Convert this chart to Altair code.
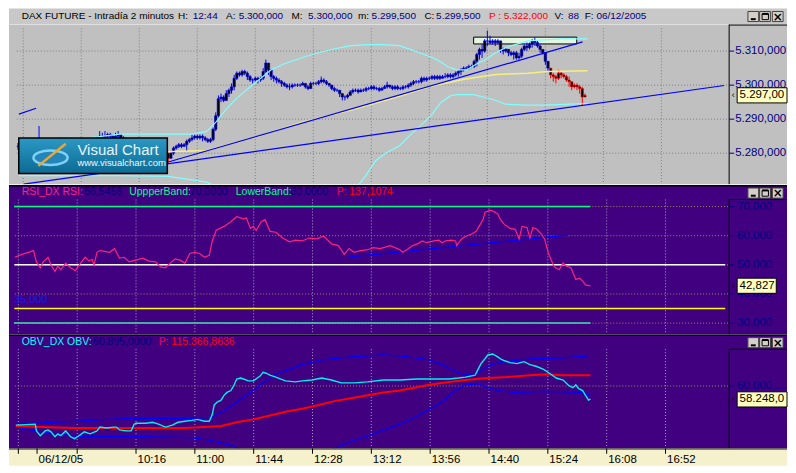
import altair as alt
import pandas as pd

# ============================ DATA ============================
# 2-minute bars of the DAX future, 06/12/2005 (time = minutes after midnight)
BAR_FIRST_T = 524
BAR_STEP = 2
OPEN_FIRST = 5282.0
CLOSES = [5282, 5281.5, 5282, 5282.5, 5282, 5282.5, 5283, 5282.5, 5283, 5282.5,
          5282, 5281.5, 5281, 5281.5, 5282, 5281.5, 5281, 5280.5, 5281, 5281.5,
          5282, 5282, 5282.5, 5283, 5282.5, 5283, 5283.5, 5283, 5283.5, 5284,
          5284.5, 5285, 5284.5, 5285, 5285.5, 5285, 5284.5, 5285, 5285.5, 5284.5,
          5284, 5283.5, 5283, 5283.5, 5283, 5282.5, 5282, 5282.5, 5282, 5281.5,
          5281, 5281.5, 5281, 5280.5, 5280, 5280.5, 5280, 5278.5, 5280, 5281.5,
          5282, 5282.5, 5282, 5282.5, 5283.5, 5284, 5284.5, 5285, 5284.5, 5285,
          5284.5, 5284, 5283.5, 5284, 5287, 5291, 5296, 5296.5, 5295.5, 5297.5,
          5298.5, 5299.5, 5302, 5303.5, 5303, 5304, 5303.5, 5302.5, 5301.5, 5301.5,
          5302, 5301.5, 5302, 5304, 5306.5, 5304.5, 5302.5, 5302, 5301.5, 5301,
          5300.5, 5300, 5299.5, 5299.5, 5300, 5300, 5300, 5300, 5300.5, 5299.5,
          5299, 5300.5, 5300.5, 5300.5, 5301, 5301.5, 5301, 5300.5, 5300, 5299,
          5298.5, 5298.5, 5297.5, 5296.5, 5296.5, 5297, 5298, 5298.5, 5298.5, 5298,
          5298.5, 5298.5, 5299, 5299, 5299.5, 5299, 5299, 5298.5, 5299, 5299.5,
          5300, 5299.5, 5299, 5299.5, 5299, 5299, 5299.5, 5299.5, 5300, 5300.5,
          5301, 5301, 5301, 5302, 5301.5, 5302, 5302, 5302.5, 5302, 5302.5,
          5302, 5302.5, 5302.5, 5303, 5302.5, 5303, 5303.5, 5304, 5304.5, 5305,
          5305, 5305.5, 5305.5, 5307, 5309, 5310.5, 5310, 5313, 5313, 5312.5,
          5313, 5312.5, 5313, 5310.5, 5310, 5310.5, 5309.5, 5309, 5309.5, 5308,
          5308.5, 5310.5, 5311.5, 5311, 5312, 5313, 5312.5, 5311.5, 5310.5, 5309.5,
          5307, 5305, 5303, 5302.5, 5302, 5303.5, 5303, 5302.5, 5301.5, 5301,
          5299.5, 5300, 5299.5, 5299, 5296.5, 5297]
HIGHS = [5283, 5282.5, 5282.5, 5283, 5283, 5283, 5283.5, 5283.5, 5288, 5283.5,
         5283, 5282.5, 5282, 5282, 5282.5, 5282.5, 5282, 5281.5, 5281.5, 5282,
         5282.5, 5282.5, 5283, 5283.5, 5283.5, 5283.5, 5284, 5284, 5284, 5284.5,
         5285, 5286.5, 5286, 5286.5, 5286, 5286, 5285.5, 5286, 5286.5, 5285.5,
         5285, 5284.5, 5284, 5284, 5284, 5283.5, 5283, 5283, 5283, 5282.5,
         5282, 5282, 5282, 5281.5, 5281, 5281, 5281, 5280.5, 5280.5, 5282,
         5282.5, 5283, 5283, 5283, 5284, 5284.5, 5285.5, 5285.5, 5285.5, 5285.5,
         5285.5, 5285, 5284.5, 5284.5, 5287.5, 5292, 5297, 5297.5, 5297, 5298.5,
         5299, 5300.5, 5303, 5304, 5304, 5304.5, 5304.5, 5304, 5303, 5302,
         5302.5, 5302.5, 5302.5, 5305, 5307.5, 5306.5, 5304.5, 5303, 5302.5, 5302,
         5301.5, 5301, 5300.5, 5300.5, 5300.5, 5300.5, 5300.5, 5300.5, 5301, 5300.5,
         5300, 5301, 5301, 5301, 5301.5, 5302.5, 5302, 5301.5, 5300.5, 5300,
         5299.5, 5299, 5298.5, 5297.5, 5297, 5297.5, 5298.5, 5299, 5299, 5299,
         5299, 5299, 5299.5, 5299.5, 5300, 5300, 5299.5, 5299.5, 5299.5, 5300,
         5301, 5300, 5300, 5300, 5300, 5299.5, 5300, 5300, 5300.5, 5301,
         5301.5, 5301.5, 5301.5, 5302.5, 5302.5, 5302.5, 5302.5, 5303, 5303, 5303,
         5303, 5303, 5303.5, 5303.5, 5303.5, 5303.5, 5304, 5304.5, 5305, 5305.5,
         5305.5, 5306, 5306, 5307.5, 5309.5, 5311, 5312, 5313.5, 5316, 5314.5,
         5313.5, 5313.5, 5313.5, 5313, 5311, 5311, 5310.5, 5310, 5310, 5310,
         5309.5, 5311, 5312, 5312.5, 5312.5, 5313.5, 5314, 5313, 5312, 5310.5,
         5309.5, 5307, 5305, 5303.5, 5303, 5304.5, 5304, 5303.5, 5303, 5302.5,
         5301, 5300.5, 5300.5, 5300, 5299.5, 5297.5]
LOWS = [5281, 5281, 5281, 5281.5, 5281.5, 5282, 5282, 5282, 5282.5, 5282,
        5281.5, 5281, 5280.5, 5280.5, 5281, 5281, 5280.5, 5280, 5280, 5280.5,
        5281, 5281.5, 5281.5, 5282, 5282, 5282, 5282.5, 5282.5, 5282.5, 5283,
        5283.5, 5284, 5284, 5284, 5284.5, 5284.5, 5284, 5284.5, 5284.5, 5284,
        5283.5, 5283, 5282.5, 5282.5, 5282.5, 5282, 5281.5, 5281.5, 5281.5, 5281,
        5280.5, 5280.5, 5280.5, 5280, 5279.5, 5279.5, 5279.5, 5277, 5278.5, 5279.5,
        5281, 5281.5, 5281.5, 5282, 5280.5, 5283, 5283.5, 5284, 5284, 5284,
        5283.5, 5283.5, 5283, 5283, 5283.5, 5286.5, 5290.5, 5295, 5295, 5295.5,
        5296.5, 5297.5, 5298.5, 5301.5, 5302.5, 5302.5, 5303, 5301.5, 5301, 5300.5,
        5301, 5300.5, 5301, 5301.5, 5303.5, 5303, 5301.5, 5301, 5300.5, 5300.5,
        5299.5, 5299.5, 5299, 5298.5, 5299, 5299.5, 5299.5, 5299.5, 5300, 5299,
        5298.5, 5299, 5300, 5300, 5300, 5300.5, 5300.5, 5300, 5299.5, 5298.5,
        5298, 5298, 5296.5, 5295.5, 5295.5, 5296, 5297, 5297.5, 5298, 5297.5,
        5298, 5298, 5298, 5298.5, 5298.5, 5298.5, 5298.5, 5298, 5298.5, 5299,
        5299, 5299, 5298.5, 5298.5, 5298.5, 5298.5, 5298.5, 5299, 5299, 5299.5,
        5300, 5300.5, 5300.5, 5300.5, 5301, 5301, 5301.5, 5301.5, 5301.5, 5301.5,
        5301.5, 5302, 5302, 5302, 5302, 5302, 5302.5, 5302.5, 5303, 5304,
        5304.5, 5304.5, 5305, 5305, 5305.5, 5307.5, 5308, 5309.5, 5311.5, 5312,
        5312, 5311.5, 5312, 5309.5, 5309, 5309.5, 5308.5, 5308.5, 5307.5, 5307.5,
        5307.5, 5308, 5310, 5310, 5310.5, 5311, 5311.5, 5311, 5309.5, 5309,
        5306, 5304, 5302, 5301, 5300.5, 5301.5, 5302, 5302, 5301, 5299.5,
        5298.5, 5299, 5298.5, 5297.5, 5294, 5296.5]
RED_FROM_T = 928          # bars drawn in red (sell signal) from this time on
RED_SINGLE_T = 638        # single red bar in the morning

# Bollinger bands and moving average on price
UPPER_T = [530, 564.9, 601.4, 656.2, 667.2, 674.5, 681.8, 689.1, 696.4, 703.7,
           716.1, 725.7, 740.3, 752.7, 764.4, 776.8, 789.2, 800.9, 813.4, 828.0,
           837.5, 842.6, 849.9, 857.2, 864.5, 871.8, 879.1, 886.5, 893.8, 901.1,
           910.6, 923.0, 935.4, 955.9]
UPPER_P = [5282.2, 5283.9, 5285.6, 5285.6, 5286.4, 5289.3, 5292.9, 5295.8, 5298.3, 5300.6,
           5304.5, 5306.2, 5308.2, 5309.6, 5310.7, 5311.6, 5311.9, 5311.9, 5311.6, 5309.6,
           5308.2, 5307.3, 5305.4, 5304.5, 5304.5, 5306.2, 5307.6, 5309.6, 5311.0, 5311.9,
           5313.0, 5313.3, 5313.6, 5313.6]
LOWER_T = [524.7, 564.9, 601.4, 638.0, 667.2, 678.0, 689.1, 733.0, 776.8, 780.5,
           787.8, 795.1, 802.4, 813.4, 820.7, 828.0, 837.5, 844.8, 852.1, 857.2,
           869.6, 879.1, 886.5, 893.8, 910.6, 923.0, 942.7, 955.9]
LOWER_P = [5273.4, 5273.4, 5273.4, 5273.2, 5271.5, 5269.5, 5267.2, 5265.8, 5267.5, 5269.8,
           5273.4, 5277.7, 5279.9, 5282.2, 5285.0, 5287.6, 5291.2, 5294.9, 5296.9, 5297.2,
           5297.2, 5296.3, 5295.5, 5294.4, 5294.1, 5294.1, 5294.4, 5294.6]
MA_T = [524.7, 564.9, 608.7, 641.6, 667.2, 703.7, 740.3, 776.8, 813.4, 837.5,
        862.3, 886.5, 910.6, 925.2, 955.9]
MA_P = [5278.5, 5279.1, 5279.9, 5280.5, 5280.8, 5284.7, 5289.2, 5292.7, 5296.7, 5299.7,
        5301.7, 5303.1, 5303.5, 5304.0, 5304.2]

# hand-drawn trend lines and resistance box
TREND_ID = ["a", "a", "b", "b", "c", "c"]
TREND_T = [528.3, 1059.6, 638.0, 952.2, 524.7, 537.8]
TREND_P = [5270.9, 5299.9, 5277.4, 5312.7, 5291.5, 5293.2]
BOX_T = [869.6, 947.8]
BOX_P = [5312.1, 5314.1]

PRICE_TICKS = [5280, 5290, 5300, 5310]
PRICE_LAST = 5297.0

# RSI
RSI_T = [525.4, 530.5, 535.6, 539.3, 541.5, 544.4, 546.6, 550.2, 552.4, 555.4,
         557.5, 559.7, 563.4, 567.0, 570.7, 573.6, 578.0, 580.9, 583.1, 584.6,
         586.8, 589.0, 592.6, 596.3, 599.9, 603.6, 607.2, 610.9, 616.0, 621.1,
         625.5, 630.6, 634.3, 637.9, 641.6, 645.3, 648.9, 652.6, 656.2, 659.9,
         663.5, 667.2, 670.8, 673.0, 676.0, 681.8, 686.9, 691.3, 696.4, 698.6,
         701.5, 703.7, 705.9, 709.6, 712.5, 716.2, 720.5, 725.7, 730.8, 735.2,
         740.3, 745.4, 751.2, 756.3, 762.2, 767.3, 771.7, 775.4, 779.0, 784.1,
         789.2, 793.6, 798.7, 806.1, 813.4, 815.6, 818.5, 822.9, 826.5, 830.2,
         833.1, 835.3, 838.9, 842.6, 844.8, 847.7, 852.1, 855.0, 855.8, 859.4,
         863.1, 866.7, 870.4, 873.3, 875.5, 877.0, 881.3, 884.3, 886.5, 888.6,
         891.6, 895.9, 899.6, 902.5, 904.7, 908.4, 910.6, 912.8, 915.7, 919.3,
         921.5, 924.5, 926.6, 928.8, 932.5, 935.4, 937.6, 941.3, 944.9, 947.8,
         950.0, 952.2, 955.9]
RSI_V = [52.6, 53.6, 54.3, 54.9, 51.0, 49.0, 51.0, 52.6, 50.0, 47.7,
         49.6, 48.3, 50.6, 49.0, 48.0, 50.0, 52.6, 51.3, 51.9, 50.0,
         54.3, 54.9, 54.6, 54.3, 55.6, 52.3, 52.6, 51.0, 51.6, 52.3,
         51.3, 51.0, 49.3, 49.0, 50.6, 52.0, 51.6, 50.6, 53.9, 54.3,
         53.9, 52.6, 53.3, 58.2, 61.9, 63.2, 64.8, 66.5, 65.8, 66.1,
         62.5, 63.2, 61.8, 64.8, 65.5, 61.5, 61.2, 59.2, 57.9, 58.5,
         58.2, 59.2, 58.9, 59.9, 57.2, 56.6, 53.6, 55.6, 54.3, 54.9,
         55.2, 55.9, 55.6, 56.6, 55.2, 54.3, 55.2, 56.6, 57.2, 58.2,
         57.6, 57.9, 58.2, 58.5, 57.6, 58.2, 58.5, 58.2, 56.6, 58.9,
         59.9, 60.5, 61.5, 63.8, 65.5, 68.1, 68.8, 68.1, 67.5, 65.5,
         63.8, 62.5, 62.2, 58.9, 63.2, 62.8, 59.2, 62.8, 62.2, 60.5,
         58.9, 53.9, 51.6, 49.3, 48.3, 50.6, 49.6, 49.0, 45.0, 45.4,
         44.4, 43.1, 42.8]
RSI_TREND_T = [773.9, 938.3]
RSI_TREND_V = [52.6, 60.2]
RSI_LEVEL_NAME = ["upper", "mid", "signal", "lower"]
RSI_LEVEL = [70, 50, 35, 30]
RSI_LEVEL_T0 = [524.7, 525.0, 525.0, 524.7]
RSI_LEVEL_T1 = [955.9, 1056.7, 1056.7, 955.9]
RSI_TICKS = [30, 40, 50, 60, 70]
RSI_LAST = 42.827

# OBV (thousands)
OBV_T = [526.1, 540.7, 541.5, 544.4, 548.0, 550.2, 552.4, 555.4, 557.5, 559.7,
         563.4, 567.0, 570.0, 572.2, 577.3, 581.7, 586.8, 589.0, 594.1, 599.2,
         601.4, 603.6, 608.7, 612.4, 614.6, 616.0, 623.3, 628.4, 632.8, 638.0,
         643.1, 647.4, 652.6, 657.7, 662.1, 667.2, 670.8, 673.0, 674.5, 676.7,
         679.6, 681.8, 684.0, 686.9, 689.1, 691.3, 694.2, 696.4, 700.1, 703.7,
         708.8, 711.0, 713.2, 716.2, 720.5, 727.8, 735.2, 740.3, 747.6, 754.9,
         762.2, 769.5, 779.0, 789.2, 800.9, 813.4, 825.8, 837.5, 849.9, 857.2,
         862.3, 869.6, 871.8, 874.0, 877.0, 879.1, 882.8, 886.5, 888.6, 891.6,
         895.9, 901.1, 903.3, 906.2, 910.6, 915.7, 920.8, 925.2, 930.3, 935.4,
         939.8, 942.7, 944.9, 947.1, 950.0, 952.2, 954.4, 955.9]
OBV_V = [54.87, 55.00, 54.12, 53.49, 54.12, 54.25, 53.99, 53.36, 53.74, 53.49,
         54.12, 53.36, 53.11, 53.36, 53.99, 53.74, 54.12, 54.62, 54.50, 54.62,
         54.62, 54.25, 54.12, 54.12, 55.00, 55.12, 55.12, 55.25, 55.00, 54.62,
         54.87, 55.25, 55.38, 55.50, 55.63, 55.38, 55.38, 56.26, 57.52, 57.90,
         58.15, 58.78, 59.16, 59.41, 60.04, 60.92, 61.05, 60.92, 60.67, 60.67,
         61.30, 61.80, 61.68, 61.42, 61.17, 60.67, 60.54, 60.67, 60.79, 61.05,
         60.79, 60.42, 60.42, 60.54, 60.79, 60.79, 60.92, 60.92, 60.92, 61.05,
         61.17, 61.42, 62.18, 62.94, 63.57, 64.07, 64.20, 63.82, 63.57, 63.31,
         63.06, 62.94, 63.06, 63.19, 62.81, 62.56, 62.18, 61.68, 61.05, 60.79,
         60.04, 59.79, 60.16, 59.66, 59.41, 58.78, 58.15, 58.27]
OBV_UP_T = [526.1, 537.8, 570.0, 594.1, 618.2, 657.7, 672.3, 681.8, 691.3, 701.5,
            711.0, 720.5, 730.8, 740.3, 754.9, 776.8, 800.9, 813.4, 835.3, 844.8,
            855.0, 862.3, 869.6, 881.3, 891.6, 910.6, 935.4, 954.4]
OBV_UP_V = [55.12, 55.12, 55.38, 55.63, 55.75, 55.75, 55.88, 56.76, 57.90, 59.16,
            60.42, 61.55, 62.18, 62.81, 63.44, 63.82, 64.07, 63.94, 63.44, 62.81,
            61.93, 61.42, 61.55, 62.81, 63.19, 63.57, 63.69, 63.94]
OBV_LO_T = [526.1, 540.7, 557.5, 572.2, 594.1, 618.2, 657.7, 672.3, 686.9, 696.4,
            740.3, 760.0, 776.8, 793.6, 813.4, 825.8, 837.5, 844.8, 855.0, 862.3,
            871.8, 879.1, 886.5, 898.9, 923.0, 950.0, 955.9]
OBV_LO_V = [54.62, 54.12, 53.74, 53.36, 53.36, 53.36, 53.23, 52.86, 52.23, 51.47,
            49.96, 51.47, 52.73, 53.74, 55.00, 56.01, 57.15, 57.90, 59.41, 60.16,
            60.29, 59.79, 59.41, 59.16, 59.29, 59.16, 58.78]
OBV_MA_T = [526.1, 545.1, 570.0, 594.1, 652.6, 667.2, 679.6, 691.3, 703.7, 716.2,
            727.8, 740.3, 752.7, 764.4, 776.8, 789.2, 800.9, 813.4, 835.3, 849.9,
            862.3, 879.1, 893.8, 910.6, 923.0, 935.4, 955.9]
OBV_MA_V = [54.75, 54.62, 54.50, 54.50, 54.50, 54.62, 54.75, 55.25, 55.63, 56.13,
            56.64, 57.02, 57.52, 58.02, 58.40, 58.78, 59.16, 59.41, 60.16, 60.54,
            60.79, 61.05, 61.17, 61.42, 61.55, 61.42, 61.42]
OBV_TICKS = [60]
OBV_LAST = 58.248

# time axis
GRID_T = [528, 572, 616, 660, 704, 748, 792, 836, 880, 924, 968, 1012]
TICK_T = [528, 542, 572, 616, 660, 704, 748, 792, 836, 880, 924, 968, 1012]
TICK_LABEL = ["", "06/12/05", "", "10:16", "11:00", "11:44", "12:28", "13:12",
              "13:56", "14:40", "15:24", "16:08", "16:52"]

# texts
HEAD_TEXT = ["DAX FUTURE - Intradía 2 minutos", "H:", "12:44", "A:", "5.300,000", "M:",
             "5.300,000", "m:", "5.299,500", "C:", "5.299,500", "P : 5.322,000",
             "V:", "88", "F:", "06/12/2005"]
RSI_TEXT = ["RSI_DX RSI:", "56,5456", "UppperBand:", "70,0000", "LowerBand:", "30,0000",
            "P: 137,1074"]
OBV_TEXT = ["OBV_DX OBV:", "60.895,0000", "P: 115.366,8636"]

# ============================ LAYOUT / STYLE ============================
SX = 780 / 796
SY = 456 / 473
W = 722
AXW = 58
FULL = W + AXW
H_HEAD = 16 * SY
H_PRICE = 166 * SY
H_RSI = 155 * SY
H_OBV = 118 * SY
H_TIME = 18 * SY
FONT = "Liberation Sans"
GREY = "#c0c0c0"
PURPLE = "#400080"
NAVY = "#000080"
DARKVAL = "#00007a"

HEAD_X = [13, 173, 188, 222, 235, 289, 306, 357, 371, 425, 437, 491, 558, 572, 589, 601]
HEAD_C = ["black", "black", NAVY, "black", NAVY, "black", NAVY, "black", NAVY, "black",
          NAVY, "#ff0000", "black", NAVY, "black", NAVY]
RSI_X = [13, 77, 123, 185, 232, 288, 335]
RSI_C = ["#ff2080", DARKVAL, "#00ff90", DARKVAL, "#00ff90", DARKVAL, "#ff0000"]
OBV_X = [13, 86, 153]
OBV_C = ["#00ffff", DARKVAL, "#ff0000"]

X_SCALE = alt.Scale(domain=[521, 1059.6], nice=False, zero=False)
PRICE_SCALE = alt.Scale(domain=[5270.9, 5317.8], nice=False, zero=False)
RSI_SCALE = alt.Scale(domain=[26.2, 77.36], nice=False, zero=False)
OBV_SCALE = alt.Scale(domain=[51.85, 66.72], nice=False, zero=False)

ONE = pd.DataFrame({"k": [0]})


def eu(v, dec):
    s = f"{v:,.{dec}f}"
    return s.replace(",", "#").replace(".", ",").replace("#", ".")


def xq(field="t"):
    return alt.X(f"{field}:Q", scale=X_SCALE, axis=None)


def yq(field, sc):
    return alt.Y(f"{field}:Q", scale=sc, axis=None)


def prect(x0, x1, y0, y1, **mk):
    return alt.Chart(ONE).mark_rect(**mk).encode(
        x=alt.value(x0), x2=alt.value(x1), y=alt.value(y0), y2=alt.value(y1))


def prule(x0, x1, y0, y1, **mk):
    return alt.Chart(ONE).mark_rule(**mk).encode(
        x=alt.value(x0), x2=alt.value(x1), y=alt.value(y0), y2=alt.value(y1))


def ptext(x, y, text, **mk):
    return alt.Chart(ONE).mark_text(text=text, **mk).encode(x=alt.value(x), y=alt.value(y))


def buttons():
    lay = []
    for xa, xb in [(756, 767), (768, 779), (781, 792)]:
        lay.append(prect(xa * SX, xb * SX, 3 * SY, 13.5 * SY, fill="#d4d0c8",
                         stroke="#404040", strokeWidth=1))
    lay.append(prule(759 * SX, 764 * SX, 11 * SY, 11 * SY, color="black", strokeWidth=2))
    lay.append(prect(770.5 * SX, 777 * SX, 5.5 * SY, 11.5 * SY, filled=False,
                     stroke="black", strokeWidth=1))
    lay.append(prule(770.5 * SX, 777 * SX, 5.5 * SY, 5.5 * SY, color="black", strokeWidth=2))
    lay.append(ptext(786.5 * SX, 8.6 * SY, "×", fontSize=12, fontWeight="bold",
                     color="black", font="DejaVu Sans", baseline="middle"))
    return lay


def text_df(texts, xs, cols):
    return pd.DataFrame({"text": texts, "px": [x * SX for x in xs], "col": cols})


def legend_layer(df, ypx, size=10.5):
    return alt.Chart(df).mark_text(align="left", baseline="middle", font=FONT,
                                   fontSize=size).encode(
        x=alt.X("px:Q", scale=None), y=alt.value(ypx), text="text:N",
        color=alt.Color("col:N", scale=None))


def value_axis(ticks, labels, sc, label_x):
    """right-hand value axis: ticks and labels placed through the panel's y scale"""
    df = pd.DataFrame({"v": ticks, "lab": labels})
    tk = alt.Chart(df).mark_rule(color=NAVY, strokeWidth=1).encode(
        x=alt.value(W), x2=alt.value(W + 5), y=yq("v", sc))
    lb = alt.Chart(df).mark_text(align="left", baseline="middle", font=FONT, fontSize=11.5,
                                 color=NAVY, limit=FULL - label_x, ellipsis="").encode(
        x=alt.value(label_x), y=yq("v", sc), text="lab:N")
    return [tk, lb]


def tag(value, sc, label, x1):
    df = pd.DataFrame({"v": [value], "label": [label]})
    box = alt.Chart(df).mark_rect(fill="#ffffc0", stroke="black", strokeWidth=1,
                                  yOffset=-7.6, y2Offset=7.6).encode(
        x=alt.value(745 * SX), x2=alt.value(x1), y=yq("v", sc), y2="v:Q")
    txt = alt.Chart(df).mark_text(align="left", baseline="middle", font=FONT, fontSize=11.5,
                                  color="black", limit=x1 - 748 * SX, ellipsis="").encode(
        x=alt.value(747.5 * SX), y=yq("v", sc), text="label:N")
    arrow = alt.Chart(df).mark_text(align="center", baseline="middle", font=FONT, fontSize=9,
                                    color="black", text="‹").encode(
        x=alt.value(741 * SX), y=yq("v", sc))
    return [box, txt, arrow]


# ============================ HEADER ============================
header = alt.layer(
    prect(0, FULL, 0, H_HEAD, fill="#c8c8c8"),
    legend_layer(text_df(HEAD_TEXT, HEAD_X, HEAD_C), 8.2 * SY, size=10),
    *buttons(),
).properties(width=W, height=H_HEAD)

# ============================ PRICE PANEL ============================
opens = [OPEN_FIRST] + CLOSES[:-1]
bars = pd.DataFrame({
    "t": [BAR_FIRST_T + BAR_STEP * i for i in range(len(CLOSES))],
    "open": opens, "close": CLOSES, "high": HIGHS, "low": LOWS,
})
red_test = f"datum.t >= {RED_FROM_T} || datum.t == {RED_SINGLE_T}"
bar_col = alt.condition(red_test, alt.value("#ff0000"), alt.value("#0000ff"))

grid_df = pd.DataFrame({"t": GRID_T})
pticks_df = pd.DataFrame({"v": PRICE_TICKS})
upper_df = pd.DataFrame({"t": UPPER_T, "p": UPPER_P})
lower_df = pd.DataFrame({"t": LOWER_T, "p": LOWER_P})
ma_df = pd.DataFrame({"t": MA_T, "p": MA_P})
trend_df = pd.DataFrame({"id": TREND_ID, "t": TREND_T, "p": TREND_P})
box_df = pd.DataFrame({"t0": [BOX_T[0]], "t1": [BOX_T[1]], "p0": [BOX_P[0]], "p1": [BOX_P[1]]})

logo_grad = alt.LinearGradient(gradient="linear", x1=0, x2=0, y1=0, y2=1,
                               stops=[alt.GradientStop(color="#2b98c4", offset=0),
                                      alt.GradientStop(color="#0c6b93", offset=1)])
ELLIPSE = "M -1 0 A 1 0.42 0 1 1 1 0 A 1 0.42 0 1 1 -1 0 Z"

price = alt.layer(
    prect(0, FULL, 0, H_PRICE, fill=GREY),
    alt.Chart(grid_df).mark_rule(color="#808080", strokeDash=[1, 2], strokeWidth=1).encode(
        x=xq(), y=alt.value(4 * SY), y2=alt.value(H_PRICE)),
    alt.Chart(pticks_df).mark_rule(color="#808080", strokeDash=[1, 2], strokeWidth=1).encode(
        x=alt.value(8 * SX), x2=alt.value(W), y=yq("v", PRICE_SCALE)),
    alt.Chart(box_df).mark_rect(fill="#e4f6e0", stroke="black", strokeWidth=1).encode(
        x=xq("t0"), x2="t1:Q", y=yq("p0", PRICE_SCALE), y2="p1:Q"),
    alt.Chart(bars).mark_rule(strokeWidth=1).encode(
        x=xq(), y=yq("low", PRICE_SCALE), y2="high:Q", color=bar_col),
    alt.Chart(bars).mark_bar(width=2.4, fill="black", strokeWidth=0.6).encode(
        x=xq(), y=yq("open", PRICE_SCALE), y2="close:Q", stroke=bar_col),
    alt.Chart(upper_df).mark_line(color="#80ffff", strokeWidth=1.2, clip=True).encode(
        x=xq(), y=yq("p", PRICE_SCALE)),
    alt.Chart(lower_df).mark_line(color="#80ffff", strokeWidth=1.2, clip=True).encode(
        x=xq(), y=yq("p", PRICE_SCALE)),
    alt.Chart(ma_df).mark_line(color="#f4f080", strokeWidth=1.5, clip=True).encode(
        x=xq(), y=yq("p", PRICE_SCALE)),
    alt.Chart(trend_df).mark_line(color="#0000ff", strokeWidth=1.2, clip=True).encode(
        x=xq(), y=yq("p", PRICE_SCALE), detail="id:N"),
    # Visual Chart logo
    prect(10 * SX, 162 * SX, 118 * SY, 155 * SY, fill=logo_grad, stroke="black",
          strokeWidth=1.5),
    alt.Chart(ONE).mark_point(shape=ELLIPSE, filled=True, fill="#2286bb", stroke="#7fd0f5",
                              strokeWidth=2.5, size=(35 * SX) ** 2, opacity=1).encode(
        x=alt.value(42.5 * SX), y=alt.value(138.5 * SY)),
    prule(30 * SX, 58 * SX, 147 * SY, 124 * SY, color="#f2a52a", strokeWidth=2.5),
    ptext(70 * SX, 130 * SY, "Visual Chart", align="left", baseline="middle", font=FONT,
          fontSize=15, color="#e6f4fa"),
    ptext(70 * SX, 144.5 * SY, "www.visualchart.com", align="left", baseline="middle",
          font=FONT, fontSize=9.5, color="#f2f8fb"),
    # value axis box
    prule(W, W, 0, H_PRICE, color="black", strokeWidth=1),
    prule(W, FULL, 0.5, 0.5, color="black", strokeWidth=1),
    *value_axis(PRICE_TICKS, [eu(v, 3) for v in PRICE_TICKS], PRICE_SCALE, W + 6),
    *tag(PRICE_LAST, PRICE_SCALE, eu(PRICE_LAST, 2), FULL),
).properties(width=W, height=H_PRICE)

# ============================ RSI PANEL ============================
rsi_df = pd.DataFrame({"t": RSI_T, "v": RSI_V})
rsi_trend_df = pd.DataFrame({"t": RSI_TREND_T, "v": RSI_TREND_V})
rsi_lvl_df = pd.DataFrame({"name": RSI_LEVEL_NAME, "level": RSI_LEVEL,
                           "t0": RSI_LEVEL_T0, "t1": RSI_LEVEL_T1})
rsi_ticks_df = pd.DataFrame({"v": RSI_TICKS})

rsi = alt.layer(
    prect(0, FULL, 0, H_RSI, fill=PURPLE),
    prule(0, FULL, 0.5, 0.5, color="black", strokeWidth=1.5),
    alt.Chart(grid_df).mark_rule(color="#a89cc8", strokeDash=[1, 2], strokeWidth=1).encode(
        x=xq(), y=alt.value(15 * SY), y2=alt.value(H_RSI)),
    alt.Chart(rsi_ticks_df).mark_rule(color="#a08c5a", strokeDash=[1, 2], strokeWidth=1).encode(
        x=alt.value(6 * SX), x2=alt.value(W), y=yq("v", RSI_SCALE)),
    alt.Chart(rsi_lvl_df).mark_rule(strokeWidth=1.5).encode(
        x=xq("t0"), x2="t1:Q", y=yq("level", RSI_SCALE),
        color=alt.Color("name:N", legend=None, scale=alt.Scale(
            domain=RSI_LEVEL_NAME, range=["#00ff80", "#ffffff", "#ffff00", "#40e0a8"]))),
    alt.Chart(rsi_trend_df).mark_line(color="#0000ff", strokeWidth=1.2).encode(
        x=xq(), y=yq("v", RSI_SCALE)),
    alt.Chart(rsi_df).mark_line(color="#ff2080", strokeWidth=1.2, clip=True).encode(
        x=xq(), y=yq("v", RSI_SCALE)),
    legend_layer(text_df(RSI_TEXT, RSI_X, RSI_C), 7.5 * SY),
    ptext(5 * SX, (301 - 182) * SY, "35,000", align="left", baseline="middle", font=FONT,
          fontSize=11, color="#1a1ae0"),
    prule(W, W, 15 * SY, H_RSI, color="black", strokeWidth=1),
    prule(W, FULL, 15 * SY, 15 * SY, color="black", strokeWidth=1),
    *buttons(),
    *value_axis(RSI_TICKS, [eu(v, 3) for v in RSI_TICKS], RSI_SCALE, W + 8),
    *tag(RSI_LAST, RSI_SCALE, eu(RSI_LAST, 3), 785 * SX),
).properties(width=W, height=H_RSI)

# ============================ OBV PANEL ============================
obv_df = pd.DataFrame({"t": OBV_T, "v": OBV_V})
obv_up_df = pd.DataFrame({"t": OBV_UP_T, "v": OBV_UP_V})
obv_lo_df = pd.DataFrame({"t": OBV_LO_T, "v": OBV_LO_V})
obv_ma_df = pd.DataFrame({"t": OBV_MA_T, "v": OBV_MA_V})
obv_ticks_df = pd.DataFrame({"v": OBV_TICKS})

obv = alt.layer(
    prect(0, FULL, 0, H_OBV, fill=PURPLE),
    prule(0, FULL, 0.5, 0.5, color="black", strokeWidth=1.5),
    alt.Chart(grid_df).mark_rule(color="#a89cc8", strokeDash=[1, 2], strokeWidth=1).encode(
        x=xq(), y=alt.value(15 * SY), y2=alt.value(H_OBV)),
    alt.Chart(obv_ticks_df).mark_rule(color="#a08c5a", strokeDash=[1, 2], strokeWidth=1).encode(
        x=alt.value(6 * SX), x2=alt.value(W), y=yq("v", OBV_SCALE)),
    alt.Chart(obv_up_df).mark_line(color="#0000ff", strokeWidth=1.2, clip=True).encode(
        x=xq(), y=yq("v", OBV_SCALE)),
    alt.Chart(obv_lo_df).mark_line(color="#0000ff", strokeWidth=1.2, clip=True).encode(
        x=xq(), y=yq("v", OBV_SCALE)),
    alt.Chart(obv_ma_df).mark_line(color="#ff0000", strokeWidth=2, clip=True).encode(
        x=xq(), y=yq("v", OBV_SCALE)),
    alt.Chart(obv_df).mark_line(color="#00f0f0", strokeWidth=1.4, clip=True).encode(
        x=xq(), y=yq("v", OBV_SCALE)),
    legend_layer(text_df(OBV_TEXT, OBV_X, OBV_C), 8 * SY),
    prule(W, W, 15 * SY, H_OBV, color="black", strokeWidth=1),
    prule(W, FULL, 15 * SY, 15 * SY, color="black", strokeWidth=1),
    *buttons(),
    *value_axis(OBV_TICKS, [eu(v * 1000, 3) for v in OBV_TICKS], OBV_SCALE, W + 8),
    *tag(OBV_LAST, OBV_SCALE, eu(OBV_LAST * 1000, 1), FULL),
).properties(width=W, height=H_OBV)

# ============================ TIME STRIP ============================
ticks_df = pd.DataFrame({"t": TICK_T, "label": TICK_LABEL})
strip = alt.layer(
    prect(0, FULL, 0, H_TIME, fill="#f5f1cc"),
    prule(0, FULL, 0.5, 0.5, color="black", strokeWidth=1),
    alt.Chart(ticks_df).mark_rule(color="black", strokeWidth=1).encode(
        x=xq(), y=alt.value(0), y2=alt.value(5.5 * SY)),
    alt.Chart(ticks_df).mark_text(align="left", baseline="middle", dx=1.5, font=FONT,
                                  fontSize=11.5, color="black").encode(
        x=xq(), y=alt.value(12 * SY), text="label:N"),
).properties(width=W, height=H_TIME)

chart = alt.vconcat(header, price, rsi, obv, strip, spacing=0, bounds="flush").properties(
    padding=0, background="#ffffff"
).configure_view(stroke=None)

chart.save("out.html", embed_options={"renderer": "svg", "actions": False})
